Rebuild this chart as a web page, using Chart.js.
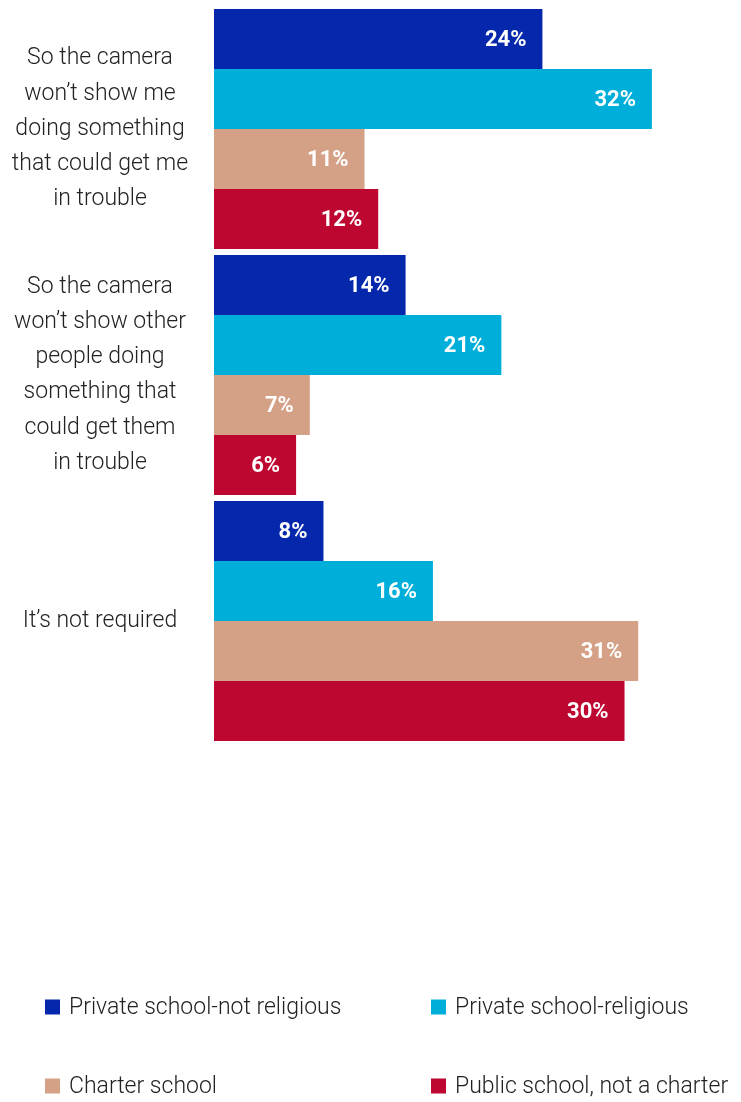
<!DOCTYPE html>
<html>
<head>
<meta charset="utf-8">
<script src="https://cdn.jsdelivr.net/npm/chart.js@4.4.1/dist/chart.umd.min.js"></script>
<style>
  html, body { margin: 0; padding: 0; background: #fff; }
  #wrap { position: relative; width: 741px; height: 1102px; }
</style>
</head>
<body>
<div id="wrap"><canvas id="chart" width="741" height="1102"></canvas></div>
<script>
// Reasons given for turning the camera off, by school type (percent)
const categories = [
  ["So the camera", "won’t show me", "doing something", "that could get me", "in trouble"],
  ["So the camera", "won’t show other", "people doing", "something that", "could get them", "in trouble"],
  ["It’s not required"]
];
const seriesNames = [
  "Private school-not religious",
  "Private school-religious",
  "Charter school",
  "Public school, not a charter"
];
const privateNotReligious = [24, 14, 8];
const privateReligious = [32, 21, 16];
const charterSchool = [11, 7, 31];
const publicNotCharter = [12, 6, 30];
const seriesColors = ["#0527ab", "#00afd9", "#d4a186", "#be0730"];

const seriesValues = [privateNotReligious, privateReligious, charterSchool, publicNotCharter];

const labelFont = { family: "Roboto", size: 23, weight: "300", lineHeight: 1.53 };
const axisWidth = 214;
const labelCenterX = 100;

// measure the widest category line so centred labels sit at labelCenterX
const mctx = document.createElement("canvas").getContext("2d");
mctx.font = `${labelFont.weight} ${labelFont.size}px ${labelFont.family}`;
let widest = 0;
categories.forEach(lines => lines.forEach(l => { widest = Math.max(widest, mctx.measureText(l).width); }));
const tickPadding = Math.max(0, axisWidth - labelCenterX - widest / 2);

// white value labels inside the end of each bar
const valueLabels = {
  id: "valueLabels",
  afterDatasetsDraw(chart) {
    const ctx = chart.ctx;
    ctx.save();
    ctx.fillStyle = "#ffffff";
    ctx.font = "bold 22px Roboto";
    ctx.textAlign = "right";
    ctx.textBaseline = "middle";
    chart.data.datasets.forEach((ds, di) => {
      chart.getDatasetMeta(di).data.forEach((bar, i) => {
        ctx.fillText(ds.data[i] + "%", bar.x - 16, bar.y + 1);
      });
    });
    ctx.restore();
  }
};

// two-column legend below the bars
const gridLegend = {
  id: "gridLegend",
  afterDraw(chart) {
    const ctx = chart.ctx;
    const colX = [45, 431];
    const rowY = [1007, 1086];
    ctx.save();
    ctx.font = "300 23px Roboto";
    ctx.textBaseline = "middle";
    ctx.textAlign = "left";
    chart.data.datasets.forEach((ds, i) => {
      const x = colX[i % 2];
      const y = rowY[Math.floor(i / 2)];
      ctx.fillStyle = ds.backgroundColor;
      ctx.fillRect(x, y - 7.5, 15, 15);
      ctx.fillStyle = "#222222";
      ctx.fillText(ds.label, x + 24, y + 1);
    });
    ctx.restore();
  }
};

new Chart(document.getElementById("chart"), {
  type: "bar",
  data: {
    labels: categories,
    datasets: seriesNames.map((name, i) => ({
      label: name,
      data: seriesValues[i],
      backgroundColor: seriesColors[i],
      borderWidth: 0,
      categoryPercentage: 240 / 246,
      barPercentage: 1
    }))
  },
  options: {
    indexAxis: "y",
    responsive: false,
    animation: false,
    layout: { padding: { top: 6, bottom: 358, left: 0, right: 7 } },
    plugins: {
      legend: { display: false },
      tooltip: { enabled: false }
    },
    scales: {
      x: {
        display: false,
        min: 0,
        max: 38
      },
      y: {
        grid: { display: false, drawTicks: false },
        border: { display: false },
        ticks: {
          color: "#222222",
          font: labelFont,
          crossAlign: "center",
          padding: tickPadding,
          autoSkip: false
        },
        afterFit(scale) {
          scale.width = axisWidth;
          scale.paddingTop = 0;
          scale.paddingBottom = 0;
        }
      }
    }
  },
  plugins: [valueLabels, gridLegend]
});
</script>
</body>
</html>
